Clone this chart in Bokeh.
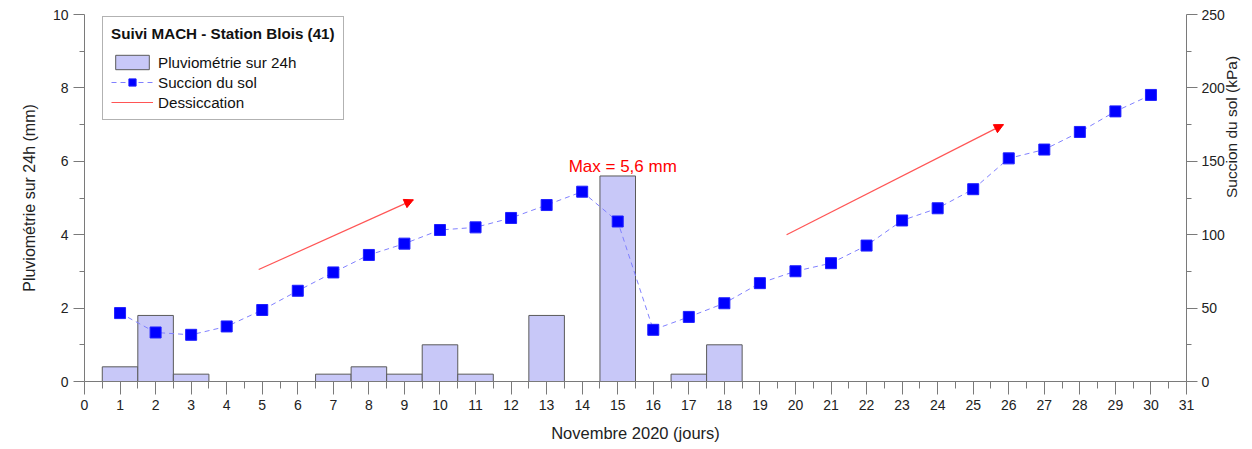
import math
from bokeh.plotting import figure
from bokeh.models import (Range1d, LinearAxis, FixedTicker, Legend, LegendItem,
                          Arrow, NormalHead, ColumnDataSource)
from bokeh.core.properties import value
from bokeh.embed import file_html
from bokeh.resources import INLINE

# ---------------- data ----------------
days = list(range(1, 31))
rain_days = [1, 2, 3, 7, 8, 9, 10, 11, 13, 15, 17, 18]
rain_mm = [0.4, 1.8, 0.2, 0.2, 0.4, 0.2, 1.0, 0.2, 1.8, 5.6, 0.2, 1.0]
suction_kpa = [46.6, 33.4, 31.8, 37.5, 48.7, 61.8, 74.3, 86.2, 93.9, 103.2,
               105.0, 111.4, 120.2, 129.3, 109.0, 35.2, 44.0, 53.3, 67.0, 75.1,
               80.6, 92.6, 109.7, 118.0, 131.0, 152.0, 158.0, 170.0, 184.0, 195.2]
x_ticks = list(range(0, 32))
x_minor = [i + 0.5 for i in range(31)]
left_ticks = [0, 2, 4, 6, 8, 10]
left_minor = [1, 3, 5, 7, 9]
right_ticks = [0, 50, 100, 150, 200, 250]
right_minor = [25, 75, 125, 175, 225]
arrow_x_start = [4.9, 19.75]
arrow_y_start = [3.05, 4.0]
arrow_x_end = [9.25, 25.85]
arrow_y_end = [4.95, 7.0]

FONT = "Liberation Sans"
AXIS_COL = "#7a7a7a"

p = figure(width=1252, height=449, x_range=Range1d(0, 31), y_range=Range1d(0, 10),
           output_backend="svg", toolbar_location=None,
           min_border_left=84, min_border_right=66, min_border_top=14, min_border_bottom=68)
p.outline_line_color = None
p.grid.visible = False
p.background_fill_color = "white"
p.border_fill_color = "white"

p.extra_y_ranges = {"kpa": Range1d(0, 250)}
raxis = LinearAxis(y_range_name="kpa",
                   ticker=FixedTicker(ticks=right_ticks, minor_ticks=right_minor),
                   axis_label="Succion du sol (kPa)")
p.add_layout(raxis, "right")

xa = p.xaxis[0]
ya = p.yaxis[0]
xa.ticker = FixedTicker(ticks=x_ticks, minor_ticks=x_minor)
ya.ticker = FixedTicker(ticks=left_ticks, minor_ticks=left_minor)
xa.axis_label = "Novembre 2020 (jours)"
ya.axis_label = "Pluviométrie sur 24h (mm)"

for ax in (xa, ya, raxis):
    ax.axis_line_color = AXIS_COL
    ax.major_tick_line_color = AXIS_COL
    ax.minor_tick_line_color = AXIS_COL
    ax.major_tick_in = 0
    ax.minor_tick_in = 0
    ax.major_label_text_font = FONT
    ax.major_label_text_font_size = "14px"
    ax.major_label_text_color = "#222222"
    ax.axis_label_text_font = FONT
    ax.axis_label_text_font_style = "normal"
    ax.axis_label_text_color = "#222222"
    ax.major_label_standoff = 5

xa.axis_label_text_font_size = "16.5px"
ya.axis_label_text_font_size = "16px"
raxis.axis_label_text_font_size = "15.5px"
xa.major_tick_out = 13
xa.minor_tick_out = 7
xa.axis_label_standoff = 11
for ax in (ya, raxis):
    ax.major_tick_out = 11
    ax.minor_tick_out = 5
    ax.major_label_orientation = "horizontal"
ya.axis_label_standoff = 12
raxis.major_label_standoff = 4
raxis.axis_label_standoff = 4
raxis.axis_label_orientation = math.pi / 2

# bars
bars = p.vbar(x=rain_days, top=rain_mm, bottom=0, width=1,
              fill_color="#c8c8f8", line_color="#5a5a5a", line_width=1)

# suction
sline = p.line(days, suction_kpa, y_range_name="kpa", line_color="#8080ff",
               line_dash="5 4", line_width=1)
ssq = p.scatter(days, suction_kpa, y_range_name="kpa", marker="square", size=11,
                fill_color="#0000ff", line_color="#2020ff", line_width=1)

# dessiccation arrows
seg = p.segment(x0=arrow_x_start, y0=arrow_y_start, x1=arrow_x_end, y1=arrow_y_end,
                line_color="#ff5555", line_width=1.2)
asrc = ColumnDataSource(dict(xs=arrow_x_start, ys=arrow_y_start, xe=arrow_x_end, ye=arrow_y_end))
p.add_layout(Arrow(end=NormalHead(size=9, fill_color="#ff0000", line_color="#ff0000"),
                   x_start="xs", y_start="ys", x_end="xe", y_end="ye", source=asrc,
                   line_alpha=0))

# max label
imax = rain_mm.index(max(rain_mm))
max_label = "Max = " + f"{rain_mm[imax]:.1f}".replace(".", ",") + " mm"
p.text(x=[rain_days[imax]], y=[rain_mm[imax]], text=[max_label], text_align="center",
       text_baseline="alphabetic", text_color="#ff0000", text_font=value(FONT),
       text_font_size="17px", x_offset=5, y_offset=-9)

legend = Legend(items=[LegendItem(label="Pluviométrie sur 24h", renderers=[bars]),
                       LegendItem(label="Succion du sol", renderers=[sline, ssq]),
                       LegendItem(label="Dessiccation", renderers=[seg])],
                title="Suivi MACH - Station Blois (41)", location=(18, 261))
legend.title_text_font = FONT
legend.title_text_font_style = "bold"
legend.title_text_font_size = "15.2px"
legend.title_text_color = "#111111"
legend.title_standoff = 11
legend.label_text_font = FONT
legend.label_text_font_size = "15.2px"
legend.label_text_color = "#111111"
legend.glyph_width = 42
legend.glyph_height = 18
legend.label_height = 18
legend.label_standoff = 5
legend.spacing = 2
legend.padding = 8
legend.margin = 0
legend.border_line_color = "#666666"
legend.border_line_width = 1
legend.background_fill_alpha = 1
p.add_layout(legend)

open("out.html", "w").write(file_html(p, INLINE))
